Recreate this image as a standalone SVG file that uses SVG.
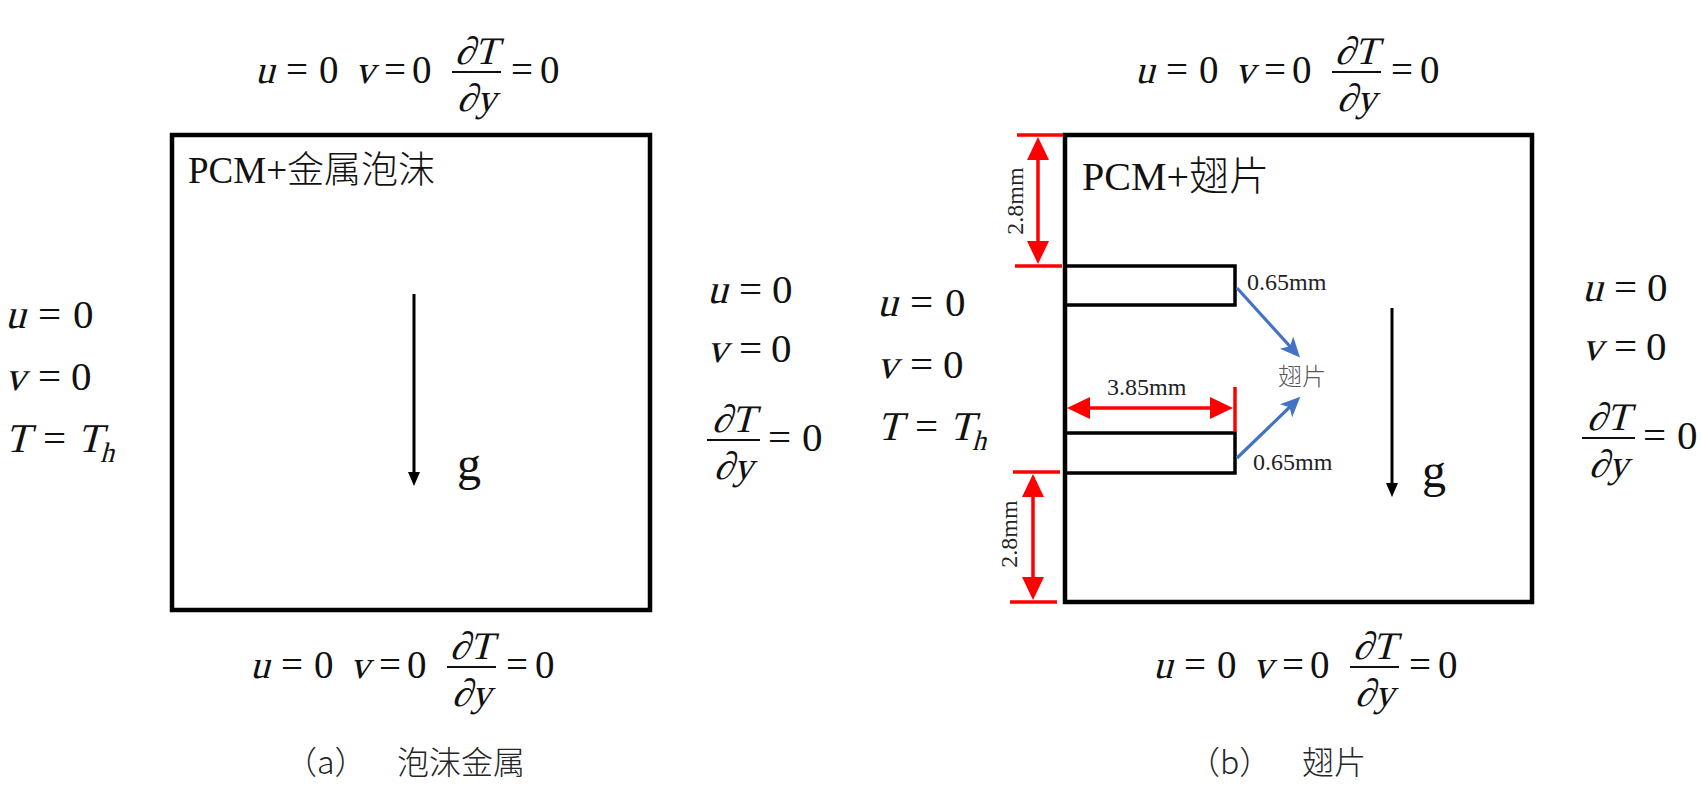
<svg xmlns="http://www.w3.org/2000/svg" width="1702" height="801" viewBox="0 0 1702 801">
<style>
.mi{font-family:"Liberation Serif",serif;font-size:39px;fill:#111}
.mn{font-family:"Liberation Serif",serif;font-size:39px;fill:#111}
.ms{font-family:"Liberation Serif",serif;font-size:41px;fill:#111}
.sub{font-family:"Liberation Serif",serif;font-size:28px;fill:#111}
.fl{stroke:#111;stroke-width:1.8}
.box{fill:none;stroke:#000;stroke-width:4.5}
.fin{fill:none;stroke:#000;stroke-width:3.5}
.lbl{font-family:"Liberation Serif","Noto Sans CJK SC",serif;font-size:37px;fill:#111;font-weight:300}
.dim{font-family:"Liberation Serif",serif;font-size:24px;fill:#222}
.cjk{font-family:"Noto Sans CJK SC",sans-serif;font-size:24px;fill:#595959;font-weight:300}
.cap{font-family:"Noto Sans CJK SC",sans-serif;font-size:32px;fill:#262626;font-weight:300}
.g{font-family:"Liberation Serif",serif;font-size:48px;fill:#111}
.red{stroke:#ff0000;stroke-width:3.5;fill:none}
.blue{stroke:#4472c4;stroke-width:3.2;fill:none}
.grav{stroke:#000;stroke-width:3;fill:none}
</style>
<defs>
<marker id="redArrow" markerUnits="userSpaceOnUse" markerWidth="26" markerHeight="24" refX="13" refY="11" orient="auto-start-reverse" viewBox="0 0 26 24">
<path d="M0,0 L23,11 L0,22 z" fill="#ff0000"/>
</marker>
<marker id="blueArrow" markerUnits="userSpaceOnUse" markerWidth="22" markerHeight="20" refX="14" refY="9" orient="auto" viewBox="0 0 22 20">
<path d="M0,0 L20,9 L0,18 L5,9 z" fill="#4472c4"/>
</marker>
<marker id="blackArrow" markerUnits="userSpaceOnUse" markerWidth="14" markerHeight="14" refX="6" refY="6" orient="auto" viewBox="0 0 14 14">
<path d="M0,0 L14,6 L0,12 z" fill="#000"/>
</marker>
</defs>
<rect width="1702" height="801" fill="#fff"/>

<!-- Panel (a) -->
<g id="a-box"><rect class="box" x="172" y="135" width="478" height="475"/></g>
<g id="a-label"><text class="lbl" x="188" y="183">PCM+金属泡沫</text></g>

<g id="a-top-bc" transform="translate(255,83)">
<text class="mi" transform="skewX(-15)">u</text><text class="mn" x="31" y="0">=</text><text class="mn" x="64" y="0">0</text>
<text class="mi" transform="translate(100,0) skewX(-15)">v</text><text class="mn" x="129" y="0">=</text><text class="mn" x="157" y="0">0</text>
<text class="mi" text-anchor="middle" transform="translate(221.5,-19) skewX(-15)">∂T</text>
<line class="fl" x1="197" y1="-11" x2="246" y2="-11"/>
<text class="mi" text-anchor="middle" transform="translate(221.5,28) skewX(-15)">∂y</text>
<text class="mn" x="256" y="0">=</text><text class="mn" x="285" y="0">0</text>
</g>
<g id="a-bottom-bc" transform="translate(250,678)">
<text class="mi" transform="skewX(-15)">u</text><text class="mn" x="31" y="0">=</text><text class="mn" x="64" y="0">0</text>
<text class="mi" transform="translate(100,0) skewX(-15)">v</text><text class="mn" x="129" y="0">=</text><text class="mn" x="157" y="0">0</text>
<text class="mi" text-anchor="middle" transform="translate(221.5,-19) skewX(-15)">∂T</text>
<line class="fl" x1="197" y1="-11" x2="246" y2="-11"/>
<text class="mi" text-anchor="middle" transform="translate(221.5,28) skewX(-15)">∂y</text>
<text class="mn" x="256" y="0">=</text><text class="mn" x="285" y="0">0</text>
</g>
<g id="a-left-bc" transform="translate(5,328)">
<text class="ms" transform="skewX(-15)">u</text><text class="ms" x="33" y="0">=</text><text class="ms" x="68" y="0">0</text>
<text class="ms" transform="translate(0,62) skewX(-15)">v</text><text class="ms" x="33" y="62">=</text><text class="ms" x="66" y="62">0</text>
<text class="ms" transform="translate(0,124) skewX(-15)">T</text><text class="ms" x="38" y="124">=</text><text class="ms" transform="translate(72,124) skewX(-15)">T</text><text class="sub" transform="translate(95,134) skewX(-15)">h</text>
</g>
<g id="a-right-bc" transform="translate(707,303)">
<text class="ms" transform="skewX(-15)">u</text><text class="ms" x="32" y="0">=</text><text class="ms" x="65" y="0">0</text>
<text class="ms" transform="translate(0,59) skewX(-15)">v</text><text class="ms" x="32" y="59">=</text><text class="ms" x="64" y="59">0</text>
<text class="mi" text-anchor="middle" transform="translate(26.5,129) skewX(-15)">∂T</text>
<line class="fl" x1="0" y1="137" x2="53" y2="137"/>
<text class="mi" text-anchor="middle" transform="translate(26.5,176) skewX(-15)">∂y</text>
<text class="ms" x="61" y="148">=</text><text class="ms" x="95" y="148">0</text>
</g>
<g id="a-gravity-label"><text class="g" x="457" y="480">g</text></g>
<g id="a-caption"><text class="cap" x="285" y="774">（a）</text><text class="cap" x="397" y="774">泡沫金属</text></g>

<!-- Panel (b) -->
<g id="b-box"><rect class="box" x="1065" y="135" width="467" height="467"/></g>
<g id="b-label"><text class="lbl" x="1082" y="190" style="font-size:40px">PCM+翅片</text></g>
<g id="b-fin-top"><path class="fin" d="M1065,266 H1235 V305 H1065"/></g>
<g id="b-fin-bottom"><path class="fin" d="M1065,433 H1235 V473 H1065"/></g>

<g id="b-top-bc" transform="translate(1135,83)">
<text class="mi" transform="skewX(-15)">u</text><text class="mn" x="31" y="0">=</text><text class="mn" x="64" y="0">0</text>
<text class="mi" transform="translate(100,0) skewX(-15)">v</text><text class="mn" x="129" y="0">=</text><text class="mn" x="157" y="0">0</text>
<text class="mi" text-anchor="middle" transform="translate(221.5,-19) skewX(-15)">∂T</text>
<line class="fl" x1="197" y1="-11" x2="246" y2="-11"/>
<text class="mi" text-anchor="middle" transform="translate(221.5,28) skewX(-15)">∂y</text>
<text class="mn" x="256" y="0">=</text><text class="mn" x="285" y="0">0</text>
</g>
<g id="b-bottom-bc" transform="translate(1153,678)">
<text class="mi" transform="skewX(-15)">u</text><text class="mn" x="31" y="0">=</text><text class="mn" x="64" y="0">0</text>
<text class="mi" transform="translate(100,0) skewX(-15)">v</text><text class="mn" x="129" y="0">=</text><text class="mn" x="157" y="0">0</text>
<text class="mi" text-anchor="middle" transform="translate(221.5,-19) skewX(-15)">∂T</text>
<line class="fl" x1="197" y1="-11" x2="246" y2="-11"/>
<text class="mi" text-anchor="middle" transform="translate(221.5,28) skewX(-15)">∂y</text>
<text class="mn" x="256" y="0">=</text><text class="mn" x="285" y="0">0</text>
</g>
<g id="b-left-bc" transform="translate(877,316)">
<text class="ms" transform="skewX(-15)">u</text><text class="ms" x="33" y="0">=</text><text class="ms" x="68" y="0">0</text>
<text class="ms" transform="translate(0,62) skewX(-15)">v</text><text class="ms" x="33" y="62">=</text><text class="ms" x="66" y="62">0</text>
<text class="ms" transform="translate(0,124) skewX(-15)">T</text><text class="ms" x="38" y="124">=</text><text class="ms" transform="translate(72,124) skewX(-15)">T</text><text class="sub" transform="translate(95,134) skewX(-15)">h</text>
</g>
<g id="b-right-bc" transform="translate(1582,301)">
<text class="ms" transform="skewX(-15)">u</text><text class="ms" x="32" y="0">=</text><text class="ms" x="65" y="0">0</text>
<text class="ms" transform="translate(0,59) skewX(-15)">v</text><text class="ms" x="32" y="59">=</text><text class="ms" x="64" y="59">0</text>
<text class="mi" text-anchor="middle" transform="translate(26.5,129) skewX(-15)">∂T</text>
<line class="fl" x1="0" y1="137" x2="53" y2="137"/>
<text class="mi" text-anchor="middle" transform="translate(26.5,176) skewX(-15)">∂y</text>
<text class="ms" x="61" y="148">=</text><text class="ms" x="95" y="148">0</text>
</g>
<g id="b-gravity-label"><text class="g" x="1422" y="487">g</text></g>
<g id="b-dim-labels">
<text class="dim" x="1023" y="201" text-anchor="middle" transform="rotate(-90 1023 201)">2.8mm</text>
<text class="dim" x="1017" y="534" text-anchor="middle" transform="rotate(-90 1017 534)">2.8mm</text>
<text class="dim" x="1107" y="395">3.85mm</text>
<text class="dim" x="1247" y="290">0.65mm</text>
<text class="dim" x="1253" y="470">0.65mm</text>
</g>
<g id="b-fin-label"><text class="cjk" x="1278" y="385">翅片</text></g>
<g id="b-caption"><text class="cap" x="1188" y="774">（b）</text><text class="cap" x="1302" y="774">翅片</text></g>

<g id="connectors">
<line class="grav" x1="414" y1="294" x2="414" y2="478" marker-end="url(#blackArrow)"/>
<line class="grav" x1="1392" y1="308" x2="1392" y2="489" marker-end="url(#blackArrow)"/>
<line class="red" x1="1017" y1="135" x2="1063" y2="135"/>
<line class="red" x1="1015" y1="266" x2="1062" y2="266"/>
<line class="red" x1="1038" y1="147" x2="1038" y2="254" marker-start="url(#redArrow)" marker-end="url(#redArrow)"/>
<line class="red" x1="1013" y1="472" x2="1060" y2="472"/>
<line class="red" x1="1010" y1="602" x2="1057" y2="602"/>
<line class="red" x1="1033" y1="484" x2="1033" y2="590" marker-start="url(#redArrow)" marker-end="url(#redArrow)"/>
<line class="red" x1="1077" y1="408" x2="1223" y2="408" marker-start="url(#redArrow)" marker-end="url(#redArrow)"/>
<line class="red" x1="1235" y1="387" x2="1235" y2="432"/>
<line class="blue" x1="1237" y1="288" x2="1296" y2="353" marker-end="url(#blueArrow)"/>
<line class="blue" x1="1237" y1="458" x2="1296" y2="401" marker-end="url(#blueArrow)"/>
</g>
</svg>
